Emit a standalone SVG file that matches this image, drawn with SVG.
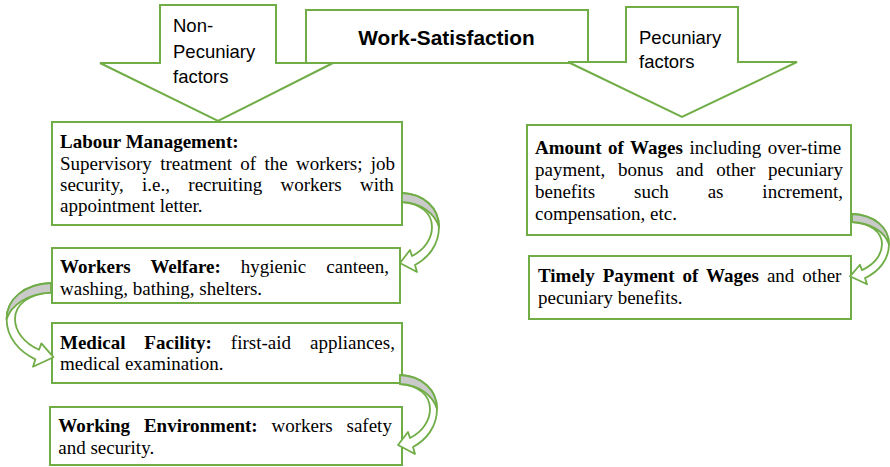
<svg xmlns="http://www.w3.org/2000/svg" width="890" height="467" viewBox="0 0 890 467">
<defs>
<style>
.box{fill:#fff;stroke:#70AD47;stroke-width:2}
.t{font-family:"Liberation Serif","Times New Roman",serif;font-size:19px;fill:#000}
.b{font-weight:bold}
.s{font-family:"Liberation Sans",Arial,sans-serif;font-size:18.5px;fill:#000}
.front{fill:#fff;stroke:#70AD47;stroke-width:1.8;stroke-linejoin:round}
.back{fill:#CACACA;stroke:#70AD47;stroke-width:1.8;stroke-linejoin:round}
</style>
<g id="curl">
<path class="front" vector-effect="non-scaling-stroke" d="M0,0 C22,1 37,15 37,34 C37,52 26,65 13,72 L15,79 L-2,70 L8,57 L10,63 C22,57 30,46 30,34 C30,20 18,10 0,9 Z"/>
<path class="back" vector-effect="non-scaling-stroke" d="M0,0 C22,1 37,15 37,34 C33,21 20,10 0,9 Z"/>
</g>
</defs>
<rect width="890" height="467" fill="#fff"/>

<g id="work-satisfaction">
<rect class="box" x="306" y="10" width="282" height="53"/>
<text x="446.5" y="45" text-anchor="middle" font-family="Liberation Sans, Arial, sans-serif" font-size="20.8" font-weight="bold">Work-Satisfaction</text>
</g>

<g id="non-pecuniary">
<polygon class="box" points="160,5 276,5 276,63 333,63 218,121 100,63 160,63"/>
<text class="s" x="173" y="32">Non-</text>
<text class="s" x="173" y="58">Pecuniary</text>
<text class="s" x="173" y="83">factors</text>
</g>

<g id="pecuniary">
<polygon class="box" points="626,7 738,7 738,62 797,62 682,117 568,62 626,62"/>
<text class="s" x="639" y="44">Pecuniary</text>
<text class="s" x="639" y="68">factors</text>
</g>

<g id="labour-management">
<rect class="box" x="52" y="122" width="350" height="103"/>
<text class="t b" x="60" y="148">Labour Management:</text>
<text class="t" x="60" y="169.5" word-spacing="3.6">Supervisory treatment of the workers; job</text>
<text class="t" x="60" y="191" word-spacing="13.6">security, i.e., recruiting workers with</text>
<text class="t" x="60" y="212">appointment letter.</text>
</g>

<g id="workers-welfare">
<rect class="box" x="52" y="248" width="348" height="55"/>
<text class="t" x="60" y="273" word-spacing="15.3"><tspan class="b">Workers Welfare:</tspan> hygienic canteen,</text>
<text class="t" x="60" y="295">washing, bathing, shelters.</text>
</g>

<g id="medical-facility">
<rect class="box" x="52" y="323" width="350" height="60"/>
<text class="t" x="60" y="348.5" word-spacing="14.2"><tspan class="b">Medical Facility:</tspan> first-aid appliances,</text>
<text class="t" x="60" y="370">medical examination.</text>
</g>

<g id="working-environment">
<rect class="box" x="50" y="407" width="352" height="58"/>
<text class="t" x="58.3" y="432" word-spacing="9.1"><tspan class="b">Working Environment:</tspan> workers safety</text>
<text class="t" x="58.3" y="453.5">and security.</text>
</g>

<g id="amount-of-wages">
<rect class="box" x="527" y="125" width="324" height="110"/>
<text class="t" x="535" y="153.5" word-spacing="1.8"><tspan class="b">Amount of Wages</tspan> including over-time</text>
<text class="t" x="535" y="175.5" word-spacing="8">payment, bonus and other pecuniary</text>
<text class="t" x="535" y="197.5" word-spacing="34.1">benefits such as increment,</text>
<text class="t" x="535" y="220">compensation, etc.</text>
</g>

<g id="timely-payment">
<rect class="box" x="529" y="256" width="322" height="63"/>
<text class="t" x="538" y="282" word-spacing="3.3"><tspan class="b">Timely Payment of Wages</tspan> and other</text>
<text class="t" x="538" y="303.5">pecuniary benefits.</text>
</g>

<g id="connectors">
<use href="#curl" transform="translate(402,193)"/>
<use href="#curl" transform="translate(51,283) scale(-1.2,1.06)"/>
<use href="#curl" transform="translate(400,375) scale(1.0,1)"/>
<use href="#curl" transform="translate(852,214) scale(1.0,0.89)"/>
</g>
</svg>
